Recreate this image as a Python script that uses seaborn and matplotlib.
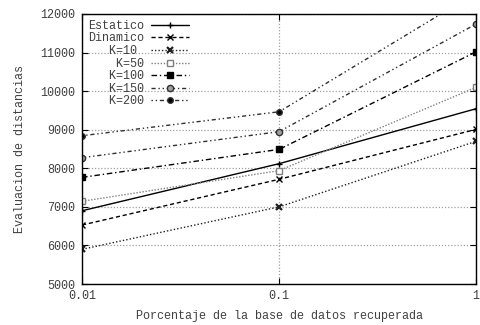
import numpy as np
import pandas as pd
import matplotlib
matplotlib.use("Agg")
import matplotlib.pyplot as plt
import seaborn as sns

# porcentaje de la base de datos recuperada
porcentaje = [0.01, 0.1, 1]

estatico = [6900, 8120, 9545]
dinamico = [6530, 7715, 9010]
k10 = [5900, 7000, 8700]
k50 = [7145, 7940, 10100]
k100 = [7765, 8490, 11020]
k150 = [8275, 8950, 11740]
k200 = [8845, 9465, 12550]

series_nombres = ["Estatico", "Dinamico", "K=10", "K=50", "K=100", "K=150", "K=200"]
series_valores = [estatico, dinamico, k10, k50, k100, k150, k200]

sns.set_style("ticks")
plt.rcParams["font.family"] = ["Liberation Mono", "DejaVu Sans Mono"]
plt.rcParams["font.size"] = 8.5
plt.rcParams["text.color"] = "#404040"
plt.rcParams["xtick.color"] = "black"
plt.rcParams["ytick.color"] = "black"
plt.rcParams["xtick.labelcolor"] = "#404040"
plt.rcParams["ytick.labelcolor"] = "#404040"
plt.rcParams["axes.labelcolor"] = "#404040"

# estilo de cada serie: (color, linestyle, marker, facecolor, markersize, mew)
estilos = {
    "Estatico": ("black", "-", "+", "black", 5, 1.0),
    "Dinamico": ("black", (0, (3, 2)), "x", "black", 4, 1.0),
    "K=10": ("#202020", (0, (1, 1.5)), "x", "#202020", 4.5, 1.6),
    "K=50": ("#808080", (0, (1, 1.2)), "s", "white", 4.5, 1.0),
    "K=100": ("black", (0, (4, 2, 1, 2)), "s", "black", 5, 1.0),
    "K=150": ("#303030", (0, (3, 2, 1, 2, 1, 2)), "o", "#a0a0a0", 4.5, 1.0),
    "K=200": ("#303030", (0, (1, 2, 1, 2, 3, 2)), "o", "black", 4, 1.0),
}

etiquetas = {
    "Estatico": "Estatico",
    "Dinamico": "Dinamico",
    "K=10": "   K=10 ",
    "K=50": "    K=50",
    "K=100": "   K=100",
    "K=150": "   K=150",
    "K=200": "   K=200",
}

fig = plt.figure(figsize=(4.8, 3.25), dpi=100)
ax = fig.add_axes([0.171, 0.126, 0.821, 0.831])

for nombre, valores in zip(series_nombres, series_valores):
    color, ls, mk, fc, ms, mw = estilos[nombre]
    df = pd.DataFrame({"x": porcentaje, "y": valores})
    sns.lineplot(data=df, x="x", y="y", ax=ax, color=color, linestyle=ls,
                 linewidth=1.0, marker=mk, markersize=ms, mfc=fc, mec=color,
                 mew=mw, label=etiquetas[nombre])

ax.set_xscale("log")
ax.set_xlim(0.01, 1)
ax.set_ylim(5000, 12000)
ax.set_xticks([0.01, 0.1, 1])
ax.set_xticklabels(["0.01", "0.1", "1"])
ax.xaxis.set_minor_locator(matplotlib.ticker.NullLocator())
ax.set_yticks(np.arange(5000, 12001, 1000))

ax.grid(True, which="major", color="#a0a0a0", linestyle=(0, (1, 1.5)), linewidth=0.9)
ax.tick_params(direction="in", length=4, width=0.8, top=True, right=True, pad=5)
ax.tick_params(axis="x", pad=4)
for s in ax.spines.values():
    s.set_linewidth(1.0)
    s.set_color("black")

ax.set_xlabel("Porcentaje de la base de datos recuperada", labelpad=6)
ax.set_ylabel("Evaluacion de distancias", labelpad=10)

leg = ax.legend(loc="upper left", frameon=False, markerfirst=False,
                handlelength=3.2, handletextpad=0.6, labelspacing=0.05,
                borderaxespad=0.2, borderpad=0.3, fontsize=8.5)

fig.savefig("out.png", dpi=100)
